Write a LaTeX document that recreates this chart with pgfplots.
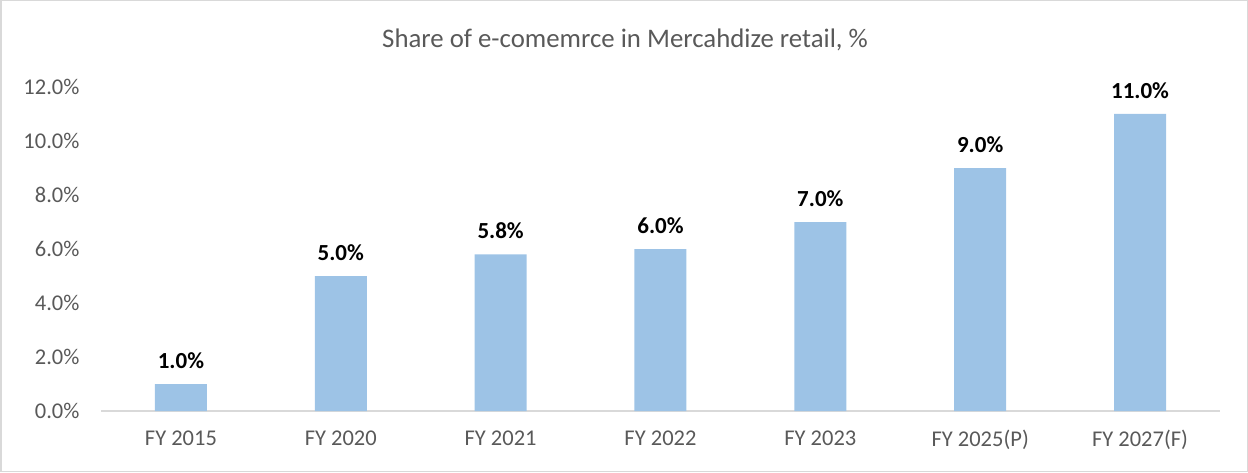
\documentclass[border=0pt]{standalone}
\usepackage{pgfplots}
\pgfplotsset{compat=1.18}
\usepackage{fontspec}
\setmainfont{Carlito}
\definecolor{barblue}{HTML}{9DC3E6}
\definecolor{txtgray}{HTML}{595959}
\definecolor{linegray}{HTML}{D9D9D9}
\begin{document}
\begin{tikzpicture}[x=1pt,y=1pt]
\draw[linegray,line width=1.5pt] (0.75,0.75) rectangle (1247.25,471.25);
\node[txtgray,font=\fontsize{26.8}{30}\selectfont] at (625,432) {Share of e-comemrce in Mercahdize retail, \%};
\begin{axis}[
  at={(101pt,61pt)}, anchor=south west,
  scale only axis, width=1119pt, height=324pt,
  xmin=-0.5, xmax=6.5, ymin=0, ymax=12,
  axis x line=bottom, axis y line=left,
  x axis line style={linegray,line width=1.2pt,-},
  y axis line style={draw=none},
  xtick=data,
  xticklabels={FY 2015,FY 2020,FY 2021,FY 2022,FY 2023,FY 2025(P),FY 2027(F)},
  ytick={0,2,4,6,8,10,12},
  major tick length=0pt,
  tick label style={txtgray,font=\fontsize{22.5}{26}\selectfont},
  /pgf/number format/assume math mode=true,
  yticklabel={\pgfmathprintnumber[fixed,fixed zerofill,precision=1]{\tick}\%},
  yticklabel style={anchor=east,xshift=-18pt},
  xticklabel style={yshift=-16pt},
  ybar, bar width=52pt,
  clip=false,
  nodes near coords={\pgfmathprintnumber[fixed,fixed zerofill,precision=1]{\pgfplotspointmeta}\%},
  nodes near coords style={black,font=\bfseries\fontsize{23}{27}\selectfont,yshift=12pt},
]
\addplot[fill=barblue,draw=none] coordinates {(0,1.0) (1,5.0) (2,5.8) (3,6.0) (4,7.0) (5,9.0) (6,11.0)};
\end{axis}
\end{tikzpicture}
\end{document}
